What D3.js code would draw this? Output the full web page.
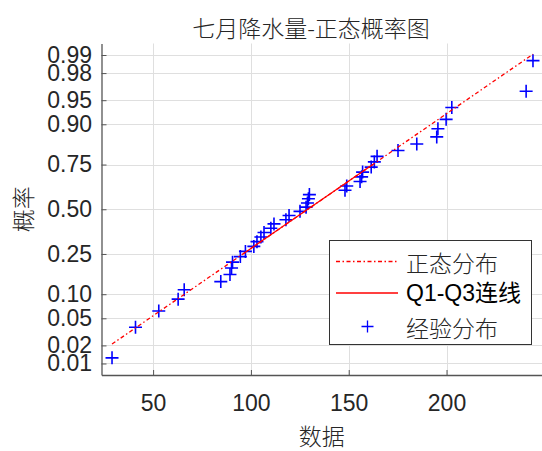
<!DOCTYPE html>
<html>
<head>
<meta charset="utf-8">
<script src="https://cdn.jsdelivr.net/npm/d3@7/dist/d3.min.js"></script>
<style>
  body { margin: 0; background: #fff; }
  svg { display: block; }
</style>
</head>
<body>
<svg id="chart" width="542" height="451"></svg>
<script>
// July rainfall sample (sorted)
const rainfall = [
  29.0, 41.0, 52.9, 62.8, 65.9, 84.6, 89.3, 90.1, 90.6, 94.6,
  97.2, 101.5, 103.1, 105.1, 106.7, 110.2, 111.8, 117.9, 119.5, 125.1,
  128.2, 128.9, 129.4, 129.9, 148.1, 149.0, 155.8, 156.6, 157.1, 161.5,
  163.1, 164.5, 175.2, 184.8, 195.0, 195.6, 199.8, 202.7, 240.7, 244.2
];
const xTickValues = [50, 100, 150, 200];
const yTickProbs = [0.01, 0.02, 0.05, 0.10, 0.25, 0.50, 0.75, 0.90, 0.95, 0.98, 0.99];
const yTickLabels = ['0.01', '0.02', '0.05', '0.10', '0.25', '0.50', '0.75', '0.90', '0.95', '0.98', '0.99'];
const legendLabels = ['正态分布', 'Q1-Q3连线', '经验分布'];
const titleText = '七月降水量-正态概率图';
const xAxisTitle = '数据';
const yAxisTitle = '概率';

// inverse standard normal CDF (Acklam)
function norminv(p) {
  const a = [-3.969683028665376e+01, 2.209460984245205e+02, -2.759285104469687e+02,
             1.383577518672690e+02, -3.066479806614716e+01, 2.506628277459239e+00];
  const b = [-5.447609879822406e+01, 1.615858368580409e+02, -1.556989798598866e+02,
             6.680131188771972e+01, -1.328068155288572e+01];
  const c = [-7.784894002430293e-03, -3.223964580411365e-01, -2.400758277161838e+00,
             -2.549732539343734e+00, 4.374664141464968e+00, 2.938163982698783e+00];
  const d = [7.784695709041462e-03, 3.224671290700398e-01, 2.445134137142996e+00,
             3.754408661907416e+00];
  const pl = 0.02425, ph = 1 - pl;
  let q, r;
  if (p < pl) {
    q = Math.sqrt(-2 * Math.log(p));
    return (((((c[0]*q+c[1])*q+c[2])*q+c[3])*q+c[4])*q+c[5]) /
           ((((d[0]*q+d[1])*q+d[2])*q+d[3])*q+1);
  }
  if (p <= ph) {
    q = p - 0.5; r = q * q;
    return (((((a[0]*r+a[1])*r+a[2])*r+a[3])*r+a[4])*r+a[5])*q /
           (((((b[0]*r+b[1])*r+b[2])*r+b[3])*r+b[4])*r+1);
  }
  q = Math.sqrt(-2 * Math.log(1 - p));
  return -(((((c[0]*q+c[1])*q+c[2])*q+c[3])*q+c[4])*q+c[5]) /
          ((((d[0]*q+d[1])*q+d[2])*q+d[3])*q+1);
}

// percentile with midpoint plotting positions
function prctile(sorted, p) {
  const n = sorted.length;
  let pos = n * p + 0.5;
  if (pos <= 1) return sorted[0];
  if (pos >= n) return sorted[n - 1];
  const lo = Math.floor(pos), f = pos - lo;
  return sorted[lo - 1] + f * (sorted[lo] - sorted[lo - 1]);
}

const sorted = rainfall.slice().sort((a, b) => a - b);
const n = sorted.length;
const points = sorted.map((v, i) => ({ x: v, z: norminv((i + 0.5) / n) }));

const margin = { left: 101.5, right: 543.5, top: 43.5, bottom: 375 };
const xmin = d3.min(sorted), xmax = d3.max(sorted);
const pad = 0.025 * (xmax - xmin);

const x = d3.scaleLinear().domain([xmin - pad, xmax + pad]).range([margin.left, margin.right]);
const y = d3.scaleLinear().domain([-2.5, 2.5]).range([margin.bottom, margin.top]);

const svg = d3.select('#chart');
const ink = '#262626';
const dashDot = '4,2.5,1.5,2.5';

// grid
const grid = svg.append('g').attr('stroke', '#dfdfdf').attr('stroke-width', 1);
xTickValues.forEach(v => {
  const px = Math.round(x(v)) + 0.5;
  grid.append('line').attr('x1', px).attr('x2', px).attr('y1', margin.top).attr('y2', margin.bottom);
});
yTickProbs.forEach(p => {
  const py = Math.round(y(norminv(p))) + 0.5;
  grid.append('line').attr('x1', margin.left).attr('x2', margin.right).attr('y1', py).attr('y2', py);
});

// axes (ticks point inward)
const yAxis = d3.axisLeft(y)
  .tickValues(yTickProbs.map(norminv))
  .tickFormat((d, i) => yTickLabels[i])
  .tickSizeInner(-5).tickSizeOuter(0).tickPadding(9.5);
const xAxis = d3.axisBottom(x)
  .tickValues(xTickValues)
  .tickFormat(d3.format('d'))
  .tickSizeInner(-5).tickSizeOuter(0).tickPadding(19.5);

const gy = svg.append('g').attr('transform', `translate(${margin.left},0)`).call(yAxis);
const gx = svg.append('g').attr('transform', `translate(0,${margin.bottom})`).call(xAxis);
[gx, gy].forEach(g => {
  g.select('.domain').attr('stroke', '#555').attr('stroke-width', 1.3);
  g.selectAll('.tick line').attr('stroke', '#555').attr('stroke-width', 1);
  g.selectAll('.tick text')
    .attr('fill', ink)
    .style('font-family', '"Liberation Sans", Arial, sans-serif')
    .style('font-size', '23px');
});

// empirical points
const plotArea = svg.append('g');
plotArea.selectAll('path.pt').data(points).join('path')
  .attr('class', 'pt')
  .attr('transform', d => `translate(${x(d.x)},${y(d.z)})`)
  .attr('d', 'M-6.5,0H6.5M0,-6.5V6.5')
  .attr('stroke', '#0000ff').attr('stroke-width', 1.6).attr('fill', 'none');

// reference line through the quartiles
const q1 = prctile(sorted, 0.25), q3 = prctile(sorted, 0.75);
const z1 = norminv(0.25), z3 = norminv(0.75);
const slope = (z3 - z1) / (q3 - q1);
const zAt = v => z1 + slope * (v - q1);

plotArea.append('line')
  .attr('x1', x(xmin)).attr('y1', y(zAt(xmin)))
  .attr('x2', x(xmax)).attr('y2', y(zAt(xmax)))
  .attr('stroke', '#ff0000').attr('stroke-width', 1.3)
  .attr('stroke-dasharray', dashDot);
plotArea.append('line')
  .attr('x1', x(q1)).attr('y1', y(z1))
  .attr('x2', x(q3)).attr('y2', y(z3))
  .attr('stroke', '#ff0000').attr('stroke-width', 1.3);

// titles
const cjk = '"Noto Sans CJK SC", "Noto Sans", sans-serif';
svg.append('text')
  .attr('x', 311).attr('y', 27)
  .attr('text-anchor', 'middle').attr('dominant-baseline', 'central')
  .style('font-family', cjk).style('font-size', '23px').style('font-weight', 300)
  .attr('fill', ink).text(titleText);
svg.append('text')
  .attr('x', (margin.left + 542) / 2).attr('y', 435)
  .attr('text-anchor', 'middle').attr('dominant-baseline', 'central')
  .style('font-family', cjk).style('font-size', '23px').style('font-weight', 300)
  .attr('fill', ink).text(xAxisTitle);
svg.append('text')
  .attr('transform', `translate(22,${(margin.top + margin.bottom) / 2}) rotate(-90)`)
  .attr('text-anchor', 'middle').attr('dominant-baseline', 'central')
  .style('font-family', cjk).style('font-size', '23px').style('font-weight', 300)
  .attr('fill', ink).text(yAxisTitle);

// legend
const lg = svg.append('g');
lg.append('rect')
  .attr('x', 329.5).attr('y', 240.5).attr('width', 202).attr('height', 104)
  .attr('fill', '#fff').attr('stroke', '#333').attr('stroke-width', 1);
const rows = [261.5, 293, 326.5];
lg.append('line').attr('x1', 336).attr('x2', 398).attr('y1', rows[0]).attr('y2', rows[0])
  .attr('stroke', '#ff0000').attr('stroke-width', 1.3).attr('stroke-dasharray', dashDot);
lg.append('line').attr('x1', 336).attr('x2', 398).attr('y1', rows[1]).attr('y2', rows[1])
  .attr('stroke', '#ff0000').attr('stroke-width', 1.3);
lg.append('path').attr('transform', `translate(367.5,${rows[2]})`)
  .attr('d', 'M-6,0H6M0,-6V6')
  .attr('stroke', '#0000ff').attr('stroke-width', 1.3).attr('fill', 'none');
legendLabels.forEach((t, i) => {
  lg.append('text')
    .attr('x', 406).attr('y', rows[i])
    .attr('dominant-baseline', 'central')
    .style('font-family', i === 1 ? '"Liberation Sans", "Noto Sans CJK SC", sans-serif' : cjk)
    .style('font-size', '23px').style('font-weight', i === 1 ? 400 : 300)
    .attr('fill', i === 1 ? '#000' : ink).text(t);
});
</script>
</body>
</html>
